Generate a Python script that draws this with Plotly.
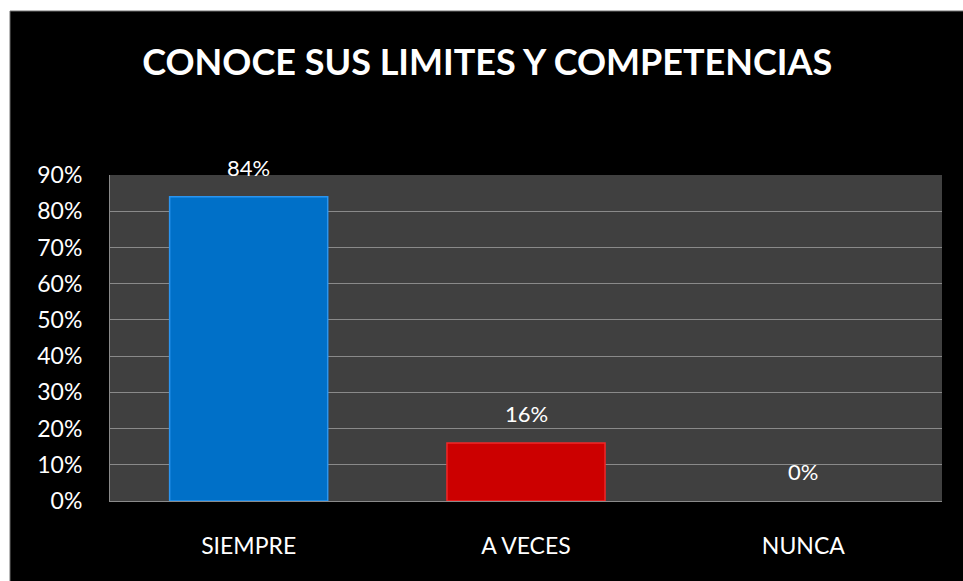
import plotly.graph_objects as go

categories = ["SIEMPRE", "A VECES", "NUNCA"]
values = [0.84, 0.16, 0.0]
labels = ["84%", "16%", "0%"]
bar_colors = ["#0070C8", "#CC0000", "rgba(0,0,0,0)"]
edge_colors = ["#2A95F0", "#F02828", "rgba(0,0,0,0)"]
title_text = "CONOCE SUS LIMITES Y COMPETENCIAS"

W, H = 963, 581
L, R, T, B = 110, 21, 175, 80

fig = go.Figure()
fig.add_trace(go.Bar(
    x=categories, y=values,
    marker=dict(color=bar_colors, line=dict(color=edge_colors, width=1.5)),
    width=0.57,
    hoverinfo="skip",
))

for c, v, t in zip(categories, values, labels):
    fig.add_annotation(x=c, y=v, text=t, showarrow=False, yanchor="bottom",
                       yshift=14, font=dict(family="Lato", size=22, color="#FFFFFF"))

pw = W - L - R
ph = H - T - B
# white margin strips (top and left) outside plot area
fig.add_shape(type="rect", xref="paper", yref="paper",
              x0=-L / pw, x1=(W - L) / pw, y0=(H - B - 11) / ph, y1=(H - B) / ph + 0.01,
              fillcolor="#FFFFFF", line=dict(width=0), layer="above")
fig.add_shape(type="rect", xref="paper", yref="paper",
              x0=-L / pw - 0.01, x1=(10 - L) / pw, y0=-B / ph - 0.01, y1=(H - B) / ph + 0.01,
              fillcolor="#FFFFFF", line=dict(width=0), layer="above")
# thin gray border of black panel
fig.add_shape(type="line", xref="paper", yref="paper",
              x0=(10 - L) / pw, x1=(W - L) / pw, y0=(H - B - 11) / ph, y1=(H - B - 11) / ph,
              line=dict(color="#707070", width=1), layer="above")
fig.add_shape(type="line", xref="paper", yref="paper",
              x0=(10 - L) / pw, x1=(10 - L) / pw, y0=-B / ph, y1=(H - B - 11) / ph,
              line=dict(color="#707070", width=1), layer="above")

fig.update_layout(
    width=W, height=H,
    margin=dict(l=L, r=R, t=T, b=B),
    paper_bgcolor="#000000",
    plot_bgcolor="#404040",
    showlegend=False,
    title=dict(text="<b>" + title_text + "</b>", x=0.506, xanchor="center",
               y=1 - 62 / H, yanchor="middle",
               font=dict(family="Lato", size=36, color="#FFFFFF")),
    xaxis=dict(showgrid=False, showline=True, linecolor="#8A8A8A", linewidth=1,
               tickfont=dict(family="Lato", size=23, color="#FFFFFF"),
               ticks="outside", ticklen=0, ticklabelstandoff=24, fixedrange=True),
    yaxis=dict(range=[0, 0.9], dtick=0.1, tickformat=".0%",
               showgrid=True, gridcolor="#8A8A8A", gridwidth=1,
               showline=True, linecolor="#8A8A8A", linewidth=1, zeroline=False,
               tickfont=dict(family="Lato", size=23, color="#FFFFFF"),
               ticks="outside", ticklen=0, ticklabelstandoff=22, fixedrange=True),
)

fig.write_html("out.html", config={"displayModeBar": False},
               post_script="document.body.style.margin='0';document.body.style.overflow='hidden';")
